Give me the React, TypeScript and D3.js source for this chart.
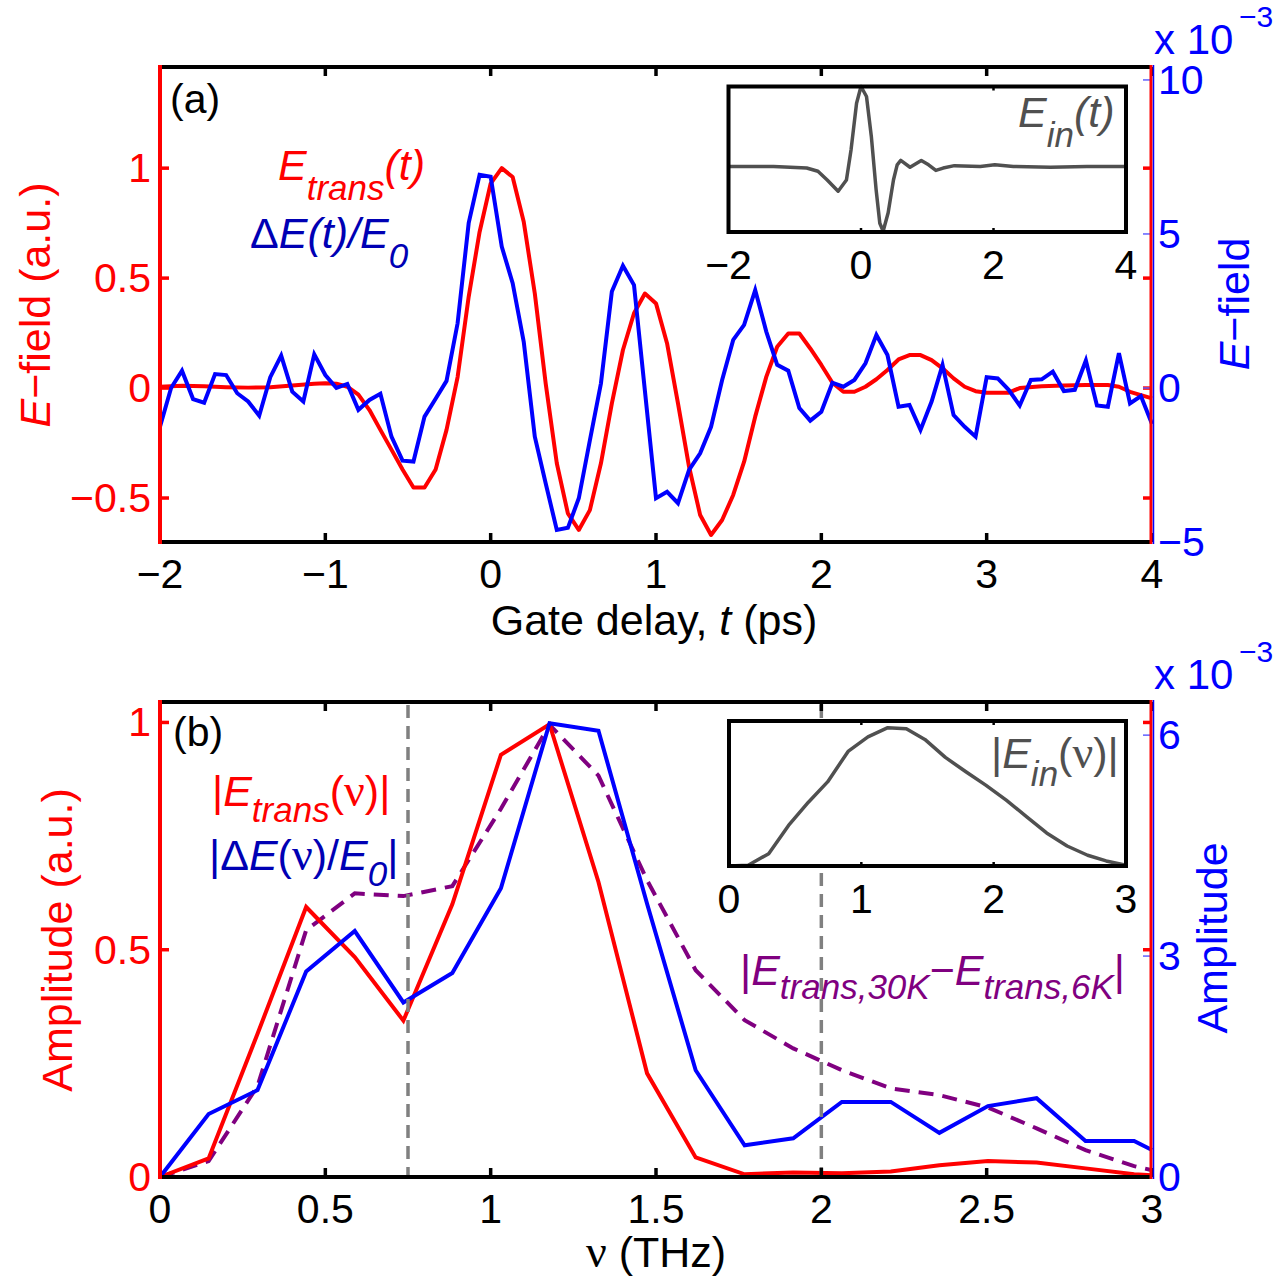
import React from "react";
import * as d3 from "d3";

// ---------- DATA ----------
// Panel (a): time axis (ps)
const xTicksA = [-2, -1, 0, 1, 2, 3, 4];
const yTicksAL = [-0.5, 0, 0.5, 1];
const yTicksAR = [-5, 0, 5, 10];
const insetTicksA = [-2, 0, 2, 4];

// E_trans(t), left axis (a.u.)
const eTrans: [number, number][] = [
  [-2, 0.006], [-1.867, 0.01], [-1.733, 0.008], [-1.6, 0.004], [-1.467, 0.002], [-1.333, 0.004],
  [-1.2, 0.012], [-1.067, 0.02], [-1.0, 0.022], [-0.933, 0.02], [-0.867, 0.006], [-0.8, -0.03],
  [-0.733, -0.1], [-0.667, -0.19], [-0.6, -0.28], [-0.533, -0.37], [-0.467, -0.452], [-0.4, -0.452],
  [-0.333, -0.37], [-0.267, -0.19], [-0.2, 0.05], [-0.133, 0.415], [-0.067, 0.71], [0, 0.93],
  [0.067, 1.0], [0.133, 0.96], [0.2, 0.756], [0.267, 0.43], [0.333, 0.02], [0.4, -0.342],
  [0.467, -0.57], [0.533, -0.645], [0.6, -0.555], [0.667, -0.342], [0.733, -0.07], [0.8, 0.173],
  [0.867, 0.34], [0.933, 0.43], [1.0, 0.385], [1.067, 0.203], [1.133, -0.07], [1.2, -0.358],
  [1.267, -0.577], [1.333, -0.668], [1.4, -0.6], [1.467, -0.486], [1.533, -0.335], [1.6, -0.13],
  [1.667, 0.051], [1.733, 0.188], [1.8, 0.248], [1.867, 0.248], [1.933, 0.18], [2.0, 0.105],
  [2.067, 0.024], [2.133, -0.017], [2.2, -0.017], [2.267, 0.006], [2.333, 0.04], [2.4, 0.082],
  [2.467, 0.13], [2.533, 0.15], [2.6, 0.15], [2.667, 0.127], [2.733, 0.09], [2.8, 0.044],
  [2.867, 0.006], [2.933, -0.014], [3.0, -0.021], [3.133, -0.021], [3.2, 0], [3.333, 0.008],
  [3.467, 0.012], [3.6, 0.014], [3.733, 0.014], [3.8, 0.006], [3.867, -0.017], [3.933, -0.032],
  [4.0, -0.047],
];

// ΔE(t)/E0, right axis (x 10^-3)
const deltaE: [number, number][] = [
  [-2, -1.26], [-1.933, 0.0], [-1.867, 0.56], [-1.8, -0.36], [-1.733, -0.48], [-1.667, 0.45],
  [-1.6, 0.42], [-1.533, -0.17], [-1.467, -0.44], [-1.4, -0.9], [-1.333, 0.35], [-1.267, 1.05],
  [-1.2, -0.12], [-1.133, -0.44], [-1.067, 1.09], [-1.0, 0.42], [-0.933, 0.0], [-0.867, 0.13],
  [-0.8, -0.71], [-0.733, -0.39], [-0.667, -0.19], [-0.6, -1.58], [-0.533, -2.36], [-0.467, -2.39],
  [-0.4, -0.93], [-0.333, -0.35], [-0.267, 0.23], [-0.2, 2.1], [-0.133, 5.35], [-0.067, 6.92],
  [0, 6.86], [0.067, 4.59], [0.133, 3.4], [0.2, 1.5], [0.267, -1.58], [0.333, -3.1],
  [0.4, -4.61], [0.467, -4.54], [0.533, -3.58], [0.6, -1.7], [0.667, 0.15], [0.733, 3.13],
  [0.8, 3.97], [0.867, 3.34], [0.933, -0.1], [1.0, -3.58], [1.067, -3.37], [1.133, -3.74],
  [1.2, -2.66], [1.267, -2.12], [1.333, -1.26], [1.4, 0.26], [1.467, 1.56], [1.533, 2.05],
  [1.6, 3.18], [1.667, 1.83], [1.733, 0.75], [1.8, 0.56], [1.867, -0.65], [1.933, -1.06],
  [2.0, -0.77], [2.067, 0.17], [2.133, 0.04], [2.2, 0.26], [2.267, 0.8], [2.333, 1.72],
  [2.4, 1.07], [2.467, -0.61], [2.533, -0.55], [2.6, -1.36], [2.667, -0.44], [2.733, 0.75],
  [2.8, -0.88], [2.867, -1.26], [2.933, -1.58], [3.0, 0.35], [3.067, 0.31], [3.133, -0.06],
  [3.2, -0.57], [3.267, 0.26], [3.333, 0.28], [3.4, 0.53], [3.467, -0.1], [3.533, -0.06],
  [3.6, 0.89], [3.667, -0.57], [3.733, -0.61], [3.8, 1.13], [3.867, -0.5], [3.933, -0.26],
  [4.0, -1.17],
];

// Inset (a): E_in(t), normalized
const eIn: [number, number][] = [
  [-2, 0], [-1.32, 0], [-0.82, -0.02], [-0.65, -0.06], [-0.51, -0.17], [-0.345, -0.31],
  [-0.22, -0.17], [-0.15, 0.21], [-0.067, 0.79], [0, 1.0], [0.083, 0.875], [0.156, 0.375],
  [0.228, -0.29], [0.284, -0.71], [0.334, -0.81], [0.41, -0.58], [0.49, -0.17], [0.546, 0.02],
  [0.6, 0.075], [0.74, -0.01], [0.91, 0.075], [1.02, 0.02], [1.13, -0.05], [1.24, -0.02],
  [1.41, 0.01], [1.8, 0], [2.02, 0.02], [2.3, 0], [2.86, -0.01], [3.41, 0], [4.0, 0],
];

// Panel (b): frequency axis (THz)
const xTicksB = [0, 0.5, 1, 1.5, 2, 2.5, 3];
const yTicksBL = [0, 0.5, 1];
const yTicksBR = [0, 3, 6];
const insetTicksB = [0, 1, 2, 3];
const markerFreqs = [0.75, 2.0];

const freqs = [0, 0.147, 0.295, 0.442, 0.589, 0.736, 0.884, 1.031, 1.178, 1.326, 1.473,
  1.62, 1.768, 1.915, 2.062, 2.21, 2.357, 2.504, 2.651, 2.799, 2.946, 3.0];
const eTransSpec = [0, 0.041, 0.315, 0.594, 0.484, 0.344, 0.6, 0.929, 0.996, 0.649, 0.228,
  0.043, 0.006, 0.01, 0.008, 0.012, 0.026, 0.035, 0.032, 0.019, 0.006, 0.004];
const deltaESpec = [0, 0.855, 1.18, 2.79, 3.34, 2.37, 2.77, 3.92, 6.16, 6.06, 3.71,
  1.45, 0.43, 0.525, 1.02, 1.02, 0.6, 0.963, 1.07, 0.488, 0.488, 0.366];
const diffSpec = [0, 0.035, 0.2, 0.543, 0.624, 0.618, 0.64, 0.81, 0.995, 0.883, 0.653,
  0.455, 0.345, 0.283, 0.235, 0.195, 0.18, 0.153, 0.107, 0.059, 0.024, 0.015];

// Inset (b): |E_in(ν)|, normalized
const eInSpec: [number, number][] = [
  [0, 0], [0.145, 0.005], [0.3, 0.085], [0.45, 0.28], [0.6, 0.44], [0.745, 0.58], [0.9, 0.79],
  [1.05, 0.89], [1.2, 0.954], [1.34, 0.947], [1.48, 0.873], [1.635, 0.749], [1.79, 0.65],
  [1.94, 0.558], [2.095, 0.454], [2.25, 0.339], [2.4, 0.228], [2.555, 0.138], [2.71, 0.074],
  [2.85, 0.035], [3.0, 0.005],
];

// ---------- STYLE ----------
const FONT = "'Liberation Sans', Arial, Helvetica, sans-serif";
const SERIF = "'Liberation Serif', 'Times New Roman', serif";
const RED = "#ff0000";
const BLUE = "#0000ff";
const DBLUE = "#0000b4";
const PURPLE = "#800080";
const GRAY = "#505050";
const TICKFS = 41;
const LABELFS = 43;
const LEGFS = 43;
const SUBFS = 35;
const LW = 4;
const fmt = (v: number) => (v < 0 ? "\u2212" + String(-v) : String(v));

export default function App() {
  // Panel (a)
  const A = { l: 160, r: 1152, t: 67, b: 542 };
  const xA = d3.scaleLinear().domain([-2, 4]).range([A.l, A.r]);
  const yAL = d3.scaleLinear().domain([-0.7, 1.46]).range([A.b, A.t]);
  const yAR = d3.scaleLinear().domain([-5, 10.42]).range([A.b, A.t]);
  // Panel (b)
  const B = { l: 160, r: 1152, t: 702, b: 1177 };
  const xB = d3.scaleLinear().domain([0, 3]).range([B.l, B.r]);
  const yBL = d3.scaleLinear().domain([0, 1.045]).range([B.b, B.t]);
  const yBR = d3.scaleLinear().domain([0, 6.45]).range([B.b, B.t]);
  // Insets
  const IA = { l: 728.5, r: 1126, t: 86.5, b: 232 };
  const xIA = d3.scaleLinear().domain([-2, 4]).range([IA.l, IA.r]);
  const yIA = d3.scaleLinear().domain([-0.82, 1.0]).range([IA.b, IA.t]);
  const IB = { l: 729, r: 1126, t: 721, b: 866 };
  const xIB = d3.scaleLinear().domain([0, 3]).range([IB.l, IB.r]);
  const yIB = d3.scaleLinear().domain([0, 1]).range([IB.b, IB.t]);

  const lineXY = (xs: any, ys: any) =>
    d3.line<[number, number]>().x((d) => xs(d[0])).y((d) => ys(d[1]));

  const pRedA = lineXY(xA, yAL)(eTrans) || "";
  const pBlueA = lineXY(xA, yAR)(deltaE) || "";
  const pInA = lineXY(xIA, yIA)(eIn) || "";
  const pRedB = lineXY(xB, yBL)(freqs.map((f, i) => [f, eTransSpec[i]] as [number, number])) || "";
  const pBlueB = lineXY(xB, yBR)(freqs.map((f, i) => [f, deltaESpec[i]] as [number, number])) || "";
  const pPurB = lineXY(xB, yBL)(freqs.map((f, i) => [f, diffSpec[i]] as [number, number])) || "";
  const pInB = lineXY(xIB, yIB)(eInSpec) || "";

  const TL = 9;

  const frame = (
    P: { l: number; r: number; t: number; b: number },
    xs: any, xTicks: number[], yl: any, ylTicks: number[], yr: any, yrTicks: number[], key: string
  ) => (
    <g key={key}>
      {xTicks.map((v) => (
        <g key={"xt" + v}>
          <line x1={xs(v)} x2={xs(v)} y1={P.b} y2={P.b - TL} stroke="#000" strokeWidth={3.5} />
          <line x1={xs(v)} x2={xs(v)} y1={P.t} y2={P.t + TL} stroke="#000" strokeWidth={3.5} />
        </g>
      ))}
      {ylTicks.map((v) => (
        <g key={"yl" + v}>
          <line x1={P.l} x2={P.l + TL} y1={yl(v)} y2={yl(v)} stroke={RED} strokeWidth={3.5} />
          <line x1={P.r} x2={P.r - TL} y1={yl(v)} y2={yl(v)} stroke={RED} strokeWidth={3.5} />
        </g>
      ))}
      {yrTicks.map((v) => (
        <line key={"yr" + v} x1={P.r} x2={P.r - TL} y1={yr(v)} y2={yr(v)} stroke="#6060ff" strokeWidth={1.5} />
      ))}
      <line x1={P.l - 2} x2={P.r} y1={P.t} y2={P.t} stroke="#000" strokeWidth={4} />
      <line x1={P.l - 2} x2={P.r} y1={P.b} y2={P.b} stroke="#000" strokeWidth={4} />
      <line x1={P.l} x2={P.l} y1={P.t - 2} y2={P.b + 2} stroke={RED} strokeWidth={4} />
      <line x1={P.r - 1} x2={P.r - 1} y1={P.t - 2} y2={P.b + 2} stroke={RED} strokeWidth={3} />
      <line x1={P.r + 1.5} x2={P.r + 1.5} y1={P.t - 2} y2={P.b + 2} stroke={BLUE} strokeWidth={1.5} />
      {xTicks.map((v) => (
        <text key={"xl" + v} x={xs(v)} y={P.b + 46} textAnchor="middle" fontSize={TICKFS} fill="#000">{fmt(v)}</text>
      ))}
      {ylTicks.map((v) => (
        <text key={"yll" + v} x={P.l - 9} y={yl(v) + 14} textAnchor="end" fontSize={TICKFS} fill={RED}>{fmt(v)}</text>
      ))}
      {yrTicks.map((v) => (
        <text key={"yrl" + v} x={P.r + 6} y={yr(v) + 14} textAnchor="start" fontSize={TICKFS} fill={BLUE}>{fmt(v)}</text>
      ))}
      <text x={P.r + 2} y={P.t - 13} fontSize={42} fill={BLUE}>x 10</text>
      <text x={P.r + 87} y={P.t - 40} fontSize={30} fill={BLUE}>{"\u22123"}</text>
    </g>
  );

  const inset = (
    P: { l: number; r: number; t: number; b: number }, xs: any, ticks: number[], path: string, key: string
  ) => (
    <g key={key}>
      <rect x={P.l} y={P.t} width={P.r - P.l} height={P.b - P.t} fill="#fff" />
      {ticks.map((v) => (
        <g key={"it" + v}>
          <line x1={xs(v)} x2={xs(v)} y1={P.b} y2={P.b - 4} stroke="#000" strokeWidth={2.5} />
          <line x1={xs(v)} x2={xs(v)} y1={P.t} y2={P.t + 4} stroke="#000" strokeWidth={2.5} />
        </g>
      ))}
      <path d={path} fill="none" stroke={GRAY} strokeWidth={3.5} strokeLinejoin="round" />
      <rect x={P.l} y={P.t} width={P.r - P.l} height={P.b - P.t} fill="none" stroke="#000" strokeWidth={4} />
      {ticks.map((v) => (
        <text key={"il" + v} x={xs(v)} y={P.b + 47} textAnchor="middle" fontSize={TICKFS} fill="#000">{fmt(v)}</text>
      ))}
    </g>
  );

  return (
    <svg width={1279} height={1279} viewBox="0 0 1279 1279"
      style={{ position: "absolute", left: 0, top: 0, background: "#fff" }}
      fontFamily={FONT}>
      <rect x={0} y={0} width={1279} height={1279} fill="#fff" />

      {/* ---------- Panel (a) ---------- */}
      <path d={pRedA} fill="none" stroke={RED} strokeWidth={LW} strokeLinejoin="round" />
      <path d={pBlueA} fill="none" stroke={BLUE} strokeWidth={LW} strokeLinejoin="miter" />
      {frame(A, xA, xTicksA, yAL, yTicksAL, yAR, yTicksAR, "fa")}
      {inset(IA, xIA, insetTicksA, pInA, "ia")}

      <text x={170} y={113} fontSize={41} fill="#000">(a)</text>
      <text x={278} y={180} fontSize={LEGFS} fill={RED} fontStyle="italic">
        E<tspan dy={20} fontSize={SUBFS}>trans</tspan><tspan dy={-20}>(t)</tspan>
      </text>
      <text x={250} y={248} fontSize={LEGFS} fill={DBLUE}>
        {"\u0394"}<tspan fontStyle="italic">E(t)/E</tspan><tspan dy={20} fontSize={SUBFS} fontStyle="italic">0</tspan>
      </text>
      <text x={1018} y={127} fontSize={LEGFS} fill={GRAY} fontStyle="italic">
        E<tspan dy={20} fontSize={SUBFS}>in</tspan><tspan dy={-20}>(t)</tspan>
      </text>

      <text x={654} y={635} textAnchor="middle" fontSize={LABELFS} fill="#000">
        Gate delay, <tspan fontStyle="italic">t</tspan> (ps)
      </text>
      <text transform="translate(50,305) rotate(-90)" textAnchor="middle" fontSize={LABELFS} fill={RED}>
        <tspan fontStyle="italic">E</tspan>{"\u2212field (a.u.)"}
      </text>
      <text transform="translate(1249,304) rotate(-90)" textAnchor="middle" fontSize={LABELFS} fill={BLUE}>
        <tspan fontStyle="italic">E</tspan>{"\u2212field"}
      </text>

      {/* ---------- Panel (b) ---------- */}
      <path d={pPurB} fill="none" stroke={PURPLE} strokeWidth={LW} strokeDasharray="15 9" />
      <path d={pRedB} fill="none" stroke={RED} strokeWidth={LW} strokeLinejoin="miter" />
      <path d={pBlueB} fill="none" stroke={BLUE} strokeWidth={LW} strokeLinejoin="miter" />
      {markerFreqs.map((f) => (
        <line key={"m" + f} x1={xB(f)} x2={xB(f)} y1={B.t + 3} y2={B.b} stroke="#808080"
          strokeWidth={3.5} strokeDasharray="13 8" />
      ))}
      {frame(B, xB, xTicksB, yBL, yTicksBL, yBR, yTicksBR, "fb")}
      {inset(IB, xIB, insetTicksB, pInB, "ib")}

      <text x={173} y={746} fontSize={41} fill="#000">(b)</text>
      <text x={212} y={806} fontSize={LEGFS} fill={RED}>
        |<tspan fontStyle="italic">E</tspan><tspan dy={16} fontSize={SUBFS} fontStyle="italic">trans</tspan>
        <tspan dy={-16}>(</tspan><tspan fontFamily={SERIF} fontSize={46}>{"\u03bd"}</tspan>)|
      </text>
      <text x={209} y={870} fontSize={LEGFS} fill={DBLUE}>
        |{"\u0394"}<tspan fontStyle="italic">E</tspan>(<tspan fontFamily={SERIF} fontSize={46}>{"\u03bd"}</tspan>)/<tspan fontStyle="italic">E</tspan>
        <tspan dy={16} fontSize={SUBFS} fontStyle="italic">0</tspan><tspan dy={-16}>|</tspan>
      </text>
      <text x={991} y={768} fontSize={LEGFS} fill={GRAY}>
        |<tspan fontStyle="italic">E</tspan><tspan dy={18} fontSize={SUBFS} fontStyle="italic">in</tspan>
        <tspan dy={-18}>(</tspan><tspan fontFamily={SERIF} fontSize={46}>{"\u03bd"}</tspan>)|
      </text>
      <text x={740} y={985} fontSize={LEGFS} fill={PURPLE}>
        |<tspan fontStyle="italic">E</tspan><tspan dy={14} fontSize={SUBFS} fontStyle="italic">trans,30K</tspan>
        <tspan dy={-14}>{"\u2212"}</tspan><tspan fontStyle="italic">E</tspan>
        <tspan dy={14} fontSize={SUBFS} fontStyle="italic">trans,6K</tspan><tspan dy={-14}>|</tspan>
      </text>

      <text x={656} y={1267} textAnchor="middle" fontSize={LABELFS} fill="#000">
        <tspan fontFamily={SERIF} fontSize={46}>{"\u03bd"}</tspan> (THz)
      </text>
      <text transform="translate(72,940) rotate(-90)" textAnchor="middle" fontSize={LABELFS} fill={RED}>
        Amplitude (a.u.)
      </text>
      <text transform="translate(1227,938) rotate(-90)" textAnchor="middle" fontSize={LABELFS} fill={BLUE}>
        Amplitude
      </text>
    </svg>
  );
}
